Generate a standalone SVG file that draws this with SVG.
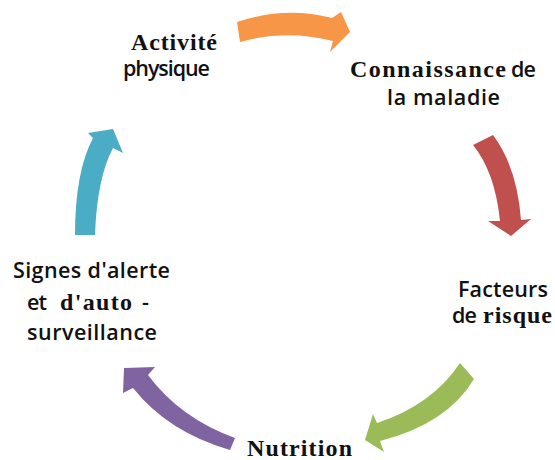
<svg xmlns="http://www.w3.org/2000/svg" width="555" height="460" viewBox="0 0 555 460">
<style>
.s{font-family:"Open Sans","Liberation Sans",sans-serif;font-weight:600;font-size:21.5px;fill:#111}
.r{font-family:"Liberation Serif","Times New Roman",serif;font-weight:bold;font-size:24px;fill:#111}
</style>
<rect width="555" height="460" fill="#fff"/>
<g id="connectors">
<path id="a1" fill="#F79646" d="M237,22 Q285,6 332,18 L341,12 L350,32 L330,52 L333,41 Q285,29 240,42 Z"/>
<path id="a2" fill="#C0504D" d="M473,145 Q495,172 500,221 L488,221 L511,236 L531,219 L521,220 Q517,167 493,135 Z"/>
<path id="a3" fill="#9BBB59" d="M460,363 Q432,405 377,423 L373,414 L365,440 L384,452 L380,441 Q447,424 474,379 Z"/>
<path id="a4" fill="#8064A2" d="M235,438 Q180,418 148,375 L155,367 L124,368 L123,393 L133,388 Q168,432 230,450 Z"/>
<path id="a5" fill="#4BACC6" d="M75,235 Q75,172 93,138 L88,133 L113,129 L123,153 L113,148 Q97,178 95,235 Z"/>
</g>
<g id="n1"><text class="r" x="131" y="50" textLength="86" lengthAdjust="spacing">Activité</text><text class="s" x="123" y="76" textLength="87" lengthAdjust="spacing">physique</text></g>
<g id="n2"><text class="r" x="350" y="77" textLength="156" lengthAdjust="spacing">Connaissance</text><text class="s" x="511" y="77" textLength="25" lengthAdjust="spacing">de</text><text class="s" x="387" y="105" textLength="113" lengthAdjust="spacing">la maladie</text></g>
<g id="n3"><text class="s" x="458" y="297" textLength="90" lengthAdjust="spacing">Facteurs</text><text class="s" x="452" y="323" textLength="25" lengthAdjust="spacing">de</text><text class="r" x="483" y="323" textLength="69" lengthAdjust="spacing">risque</text></g>
<g id="n4"><text class="r" x="247" y="456" textLength="105" lengthAdjust="spacing">Nutrition</text></g>
<g id="n5"><text class="s" x="13" y="278" textLength="157" lengthAdjust="spacing">Signes d'alerte</text><text class="s" x="27" y="310" textLength="20" lengthAdjust="spacing">et</text><text class="r" x="60" y="310" textLength="72" lengthAdjust="spacing">d'auto</text><text class="s" x="142" y="310">-</text><text class="s" x="27" y="340" textLength="130" lengthAdjust="spacing">surveillance</text></g>
</svg>
